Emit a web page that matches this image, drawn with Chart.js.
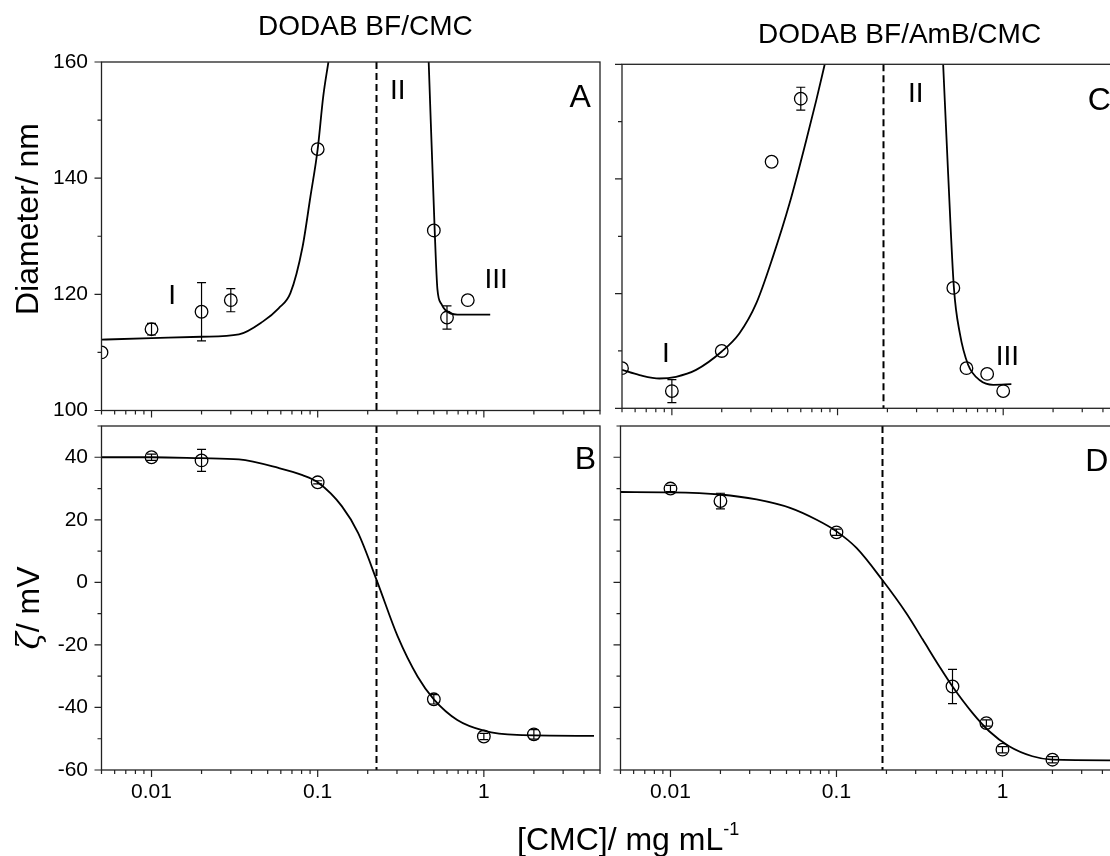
<!DOCTYPE html>
<html>
<head>
<meta charset="utf-8">
<title>DODAB BF / CMC</title>
<script src="https://cdn.jsdelivr.net/npm/chart.js@4.4.1/dist/chart.umd.min.js"></script>
<style>
  html, body { margin: 0; padding: 0; background: #fff; overflow: hidden; width: 1110px; height: 856px; }
  #stage { position: relative; width: 1130px; height: 856px; }
  #stage canvas { position: absolute; left: 0; top: 0; }
  .txt { position: absolute; font-family: 'Liberation Sans', Arial, sans-serif; color: #000; white-space: nowrap; line-height: 1; }
  .ytitle { transform: translate(-50%, -50%) rotate(-90deg); }
  .zeta { font-family: 'DejaVu Serif', serif; font-style: italic; }
</style>
</head>
<body>
<div id="stage">
  <canvas id="panelA" width="1130" height="856"></canvas>
  <canvas id="panelB" width="1130" height="856"></canvas>
  <canvas id="panelC" width="1130" height="856"></canvas>
  <canvas id="panelD" width="1130" height="856"></canvas>

  <div class="txt" style="left:258px; top:12px; font-size:28px;">DODAB BF/CMC</div>
  <div class="txt" style="left:758px; top:20px; font-size:28px;">DODAB BF/AmB/CMC</div>
  <div class="txt ytitle" style="left:27px; top:219px; font-size:32px;">Diameter/ nm</div>
  <div class="txt ytitle" style="left:28px; top:608px; font-size:32px;"><span class="zeta">ζ</span>/ mV</div>
  <div class="txt" style="left:517px; top:823px; font-size:32px;">[CMC]/ mg mL<span style="font-size:18px; position:relative; top:-15px;">-1</span></div>
</div>

<script>
// ---- data -------------------------------------------------------------

// log x axis ticks (mg/mL)
const xMajorTicks = [0.01, 0.1, 1];
const xMajorLabels = ['0.01', '0.1', '1'];
const xMinorTicks = [0.005, 0.006, 0.007, 0.008, 0.009,
                     0.02, 0.03, 0.04, 0.05, 0.06, 0.07, 0.08, 0.09,
                     0.2, 0.3, 0.4, 0.5, 0.6, 0.7, 0.8, 0.9,
                     2, 3, 4, 5];

// y axis ticks
const diamMajorTicks = [100, 120, 140, 160];
const diamMinorTicks = [110, 130, 150];
const zetaMajorTicks = [-60, -40, -20, 0, 20, 40];
const zetaMinorTicks = [-50, -30, -10, 10, 30, 50];

// A: DODAB BF/CMC, diameter
const diamAX   = [0.005, 0.01, 0.02, 0.03, 0.1, 0.5, 0.6, 0.8];
const diamAY   = [110, 114, 117, 119, 145, 131, 116, 119];
const diamAErr = [0, 1, 5, 2, 0, 0, 2, 0];
const fitA1X = [0.005, 0.01, 0.02, 0.0336, 0.0467, 0.0582, 0.0685, 0.081, 0.0904, 0.1, 0.108, 0.116];
const fitA1Y = [112.2, 112.45, 112.7, 113.1, 115.3, 117.6, 120.2, 128.1, 136.8, 145, 154.1, 160];
const fitA2X = [0.4656, 0.506, 0.5254, 0.556, 0.5864, 0.692, 1.092];
const fitA2Y = [160, 131, 120.9, 118.3, 117.3, 116.5, 116.5];

// B: DODAB BF/CMC, zeta potential
const zetaBX   = [0.01, 0.02, 0.1, 0.5, 1, 2];
const zetaBY   = [40, 39, 32, -37.4, -49.3, -48.6];
const zetaBErr = [1, 3.5, 0.5, 1.5, 1, 1.5];
const fitBX = [0.005, 0.01, 0.02, 0.0336, 0.058, 0.081, 0.1, 0.14, 0.175, 0.229, 0.303, 0.399, 0.5, 0.692, 1, 1.58, 4.6];
const fitBY = [40, 40, 39.7, 39.3, 36.6, 34.3, 32, 24.3, 15.8, 0, -17.3, -30.1, -37.4, -44, -47.4, -48.8, -49.1];

// C: DODAB BF/AmB/CMC, diameter
const diamCX   = [0.005, 0.01, 0.02, 0.04, 0.06, 0.5, 0.6, 0.8, 1];
const diamCY   = [107, 103, 110, 143, 154, 121, 107, 106, 103];
const diamCErr = [0, 2, 0, 0, 2, 0, 0, 0, 0];
const fitC1X = [0.005, 0.00638, 0.00842, 0.0106, 0.014, 0.02, 0.0256, 0.0323, 0.0408, 0.0514, 0.0648, 0.0745, 0.0837];
const fitC1Y = [106.7, 105.8, 105.2, 105.5, 106.7, 109.9, 113.1, 118.3, 126.5, 135.8, 146.8, 153.8, 160];
const fitC2X = [0.434, 0.465, 0.504, 0.547, 0.614, 0.723, 0.871, 1.12];
const fitC2Y = [160, 141, 121, 113.1, 107.6, 104.9, 104.1, 104.2];

// D: DODAB BF/AmB/CMC, zeta potential
const zetaDX   = [0.01, 0.02, 0.1, 0.5, 0.8, 1, 2];
const zetaDY   = [30, 26, 16, -33.3, -45, -53.5, -56.7];
const zetaDErr = [1, 2.5, 1, 5.5, 1, 1, 1];
const fitDX = [0.005, 0.01, 0.02, 0.033, 0.0525, 0.0759, 0.1, 0.132, 0.188, 0.263, 0.331, 0.417, 0.5, 0.661, 0.832, 1.096, 1.514, 2, 5];
const fitDY = [28.9, 28.8, 28.1, 26.5, 23.8, 20, 16.3, 11.0, 0.9, -9.8, -18.3, -26.9, -33.3, -41.8, -47.6, -52.4, -55.6, -56.7, -56.9];

// regime boundaries (dashed lines)
const boundaryBF = 0.225;
const boundaryAmB = 0.188;

// ---- drawing ----------------------------------------------------------

const FONT = "'Liberation Sans', Arial, sans-serif";
Chart.defaults.font.family = FONT;
Chart.defaults.color = '#000';

// every panel gets a full-size transparent canvas; padding places its plot box
const CANVAS_W = 1130, CANVAS_H = 856, AXIS_W = 70, AXIS_H = 50;

const zip = (xs, ys) => xs.map((x, i) => ({ x: x, y: ys[i] }));

// frame, outward ticks, error bars, dashed boundary and region labels
const panelDeco = {
  id: 'panelDeco',
  afterDatasetsDraw(chart, args, opts) {
    const { ctx, chartArea: a } = chart;
    const xs = chart.scales.x, ys = chart.scales.y;
    ctx.save();
    ctx.strokeStyle = '#000';
    ctx.fillStyle = '#000';

    // error bars
    ctx.save();
    ctx.beginPath();
    ctx.rect(a.left, a.top, a.right - a.left, a.bottom - a.top);
    ctx.clip();
    ctx.lineWidth = 1.2;
    const pts = chart.data.datasets[chart.data.datasets.length - 1].data;
    opts.err.forEach((e, i) => {
      if (!e) return;
      const px = xs.getPixelForValue(pts[i].x);
      const t = ys.getPixelForValue(pts[i].y + e);
      const b = ys.getPixelForValue(pts[i].y - e);
      ctx.beginPath();
      ctx.moveTo(px, t); ctx.lineTo(px, b);
      ctx.moveTo(px - 4.5, t); ctx.lineTo(px + 4.5, t);
      ctx.moveTo(px - 4.5, b); ctx.lineTo(px + 4.5, b);
      ctx.stroke();
    });
    ctx.restore();

    // dashed boundary between regimes
    const dx = Math.round(xs.getPixelForValue(opts.dash)) + 0.5;
    ctx.save();
    ctx.lineWidth = 2;
    ctx.setLineDash([7, 4]);
    ctx.beginPath();
    ctx.moveTo(dx, a.top); ctx.lineTo(dx, a.bottom);
    ctx.stroke();
    ctx.restore();

    // frame
    ctx.lineWidth = 1.3;
    ctx.strokeStyle = '#222';
    ctx.strokeRect(a.left, a.top, a.right - a.left, a.bottom - a.top);

    // outward ticks on left and bottom
    ctx.lineWidth = 1.2;
    ctx.beginPath();
    const yTick = (v, len) => {
      const py = ys.getPixelForValue(v);
      ctx.moveTo(a.left, py); ctx.lineTo(a.left - len, py);
    };
    const xTick = (v, len) => {
      const px = xs.getPixelForValue(v);
      ctx.moveTo(px, a.bottom); ctx.lineTo(px, a.bottom + len);
    };
    opts.yMajor.forEach(v => yTick(v, 7));
    opts.yMinor.forEach(v => yTick(v, 4));
    xMajorTicks.forEach(v => xTick(v, 7));
    xMinorTicks.forEach(v => xTick(v, 4));
    ctx.stroke();

    // region labels (I, II, III) and panel letter
    ctx.textAlign = 'center';
    ctx.textBaseline = 'alphabetic';
    opts.labels.forEach(l => {
      ctx.font = l.size + 'px ' + FONT;
      const px = xs.getPixelForValue(l.x);
      const py = ys.getPixelForValue(l.y) + l.size * 0.358;
      ctx.fillText(l.text, px, py);
    });
    ctx.restore();
  }
};

function makePanel(id, cfg) {
  const box = cfg.box;
  const datasets = cfg.fits.map(f => ({
    data: zip(f[0], f[1]),
    showLine: true,
    borderColor: '#000',
    borderWidth: 1.8,
    pointRadius: 0,
    cubicInterpolationMode: 'monotone',
    clip: 0
  }));
  datasets.push({
    data: zip(cfg.px, cfg.py),
    showLine: false,
    pointRadius: 6.3,
    pointBorderWidth: 1.3,
    pointBorderColor: '#000',
    pointBackgroundColor: 'rgba(0,0,0,0)',
    clip: 0
  });

  return new Chart(document.getElementById(id), {
    type: 'scatter',
    data: { datasets: datasets },
    plugins: [panelDeco],
    options: {
      responsive: false,
      animation: false,
      events: [],
      layout: {
        padding: {
          left: box.left - AXIS_W,
          right: CANVAS_W - box.right,
          top: box.top,
          bottom: CANVAS_H - box.bottom - AXIS_H
        }
      },
      plugins: {
        legend: { display: false },
        tooltip: { enabled: false },
        panelDeco: {
          err: cfg.err,
          dash: cfg.dash,
          yMajor: cfg.yMajor,
          yMinor: cfg.yMinor,
          labels: cfg.labels
        }
      },
      scales: {
        x: {
          type: 'logarithmic',
          min: 0.005,
          max: 5,
          grid: { display: false, drawTicks: false },
          border: { display: false },
          ticks: {
            display: cfg.xLabels,
            padding: 10,
            font: { size: 21 },
            maxRotation: 0,
            autoSkip: false,
            callback: v => xMajorLabels[xMajorTicks.indexOf(v)]
          },
          afterBuildTicks: s => { s.ticks = xMajorTicks.map(v => ({ value: v })); },
          afterFit: s => { s.height = AXIS_H; }
        },
        y: {
          min: cfg.yMin,
          max: cfg.yMax,
          grid: { display: false, drawTicks: false },
          border: { display: false },
          ticks: {
            display: cfg.yLabels,
            padding: 13.5,
            font: { size: 21 },
            autoSkip: false,
            callback: v => String(v)
          },
          afterBuildTicks: s => { s.ticks = cfg.yMajor.map(v => ({ value: v })); },
          afterFit: s => { s.width = AXIS_W; }
        }
      }
    }
  });
}

document.addEventListener('DOMContentLoaded', () => {
  makePanel('panelA', {
    box: { left: 101.5, right: 600, top: 62, bottom: 410.5 },
    px: diamAX, py: diamAY, err: diamAErr,
    fits: [[fitA1X, fitA1Y], [fitA2X, fitA2Y]],
    yMin: 100, yMax: 160, yMajor: diamMajorTicks, yMinor: diamMinorTicks,
    xLabels: false, yLabels: true, dash: boundaryBF,
    labels: [
      { text: 'I', x: 0.0133, y: 120.1, size: 28 },
      { text: 'II', x: 0.303, y: 155.3, size: 28 },
      { text: 'III', x: 1.186, y: 122.8, size: 28 },
      { text: 'A', x: 3.8, y: 154.2, size: 32 }
    ]
  });

  makePanel('panelB', {
    box: { left: 101.5, right: 600, top: 426, bottom: 770 },
    px: zetaBX, py: zetaBY, err: zetaBErr,
    fits: [[fitBX, fitBY]],
    yMin: -60, yMax: 50, yMajor: zetaMajorTicks, yMinor: zetaMinorTicks,
    xLabels: true, yLabels: true, dash: boundaryBF,
    labels: [
      { text: 'B', x: 4.08, y: 40, size: 32 }
    ]
  });

  makePanel('panelC', {
    box: { left: 622, right: 1119, top: 64.3, bottom: 408.3 },
    px: diamCX, py: diamCY, err: diamCErr,
    fits: [[fitC1X, fitC1Y], [fitC2X, fitC2Y]],
    yMin: 100, yMax: 160, yMajor: diamMajorTicks, yMinor: diamMinorTicks,
    xLabels: false, yLabels: false, dash: boundaryAmB,
    labels: [
      { text: 'I', x: 0.0092, y: 109.9, size: 28 },
      { text: 'II', x: 0.297, y: 155.2, size: 28 },
      { text: 'III', x: 1.06, y: 109.3, size: 28 },
      { text: 'C', x: 3.8, y: 154, size: 32 }
    ]
  });

  makePanel('panelD', {
    box: { left: 620.5, right: 1118.5, top: 426, bottom: 770 },
    px: zetaDX, py: zetaDY, err: zetaDErr,
    fits: [[fitDX, fitDY]],
    yMin: -60, yMax: 50, yMajor: zetaMajorTicks, yMinor: zetaMinorTicks,
    xLabels: true, yLabels: false, dash: boundaryAmB,
    labels: [
      { text: 'D', x: 3.7, y: 39.3, size: 32 }
    ]
  });
});
</script>
</body>
</html>
